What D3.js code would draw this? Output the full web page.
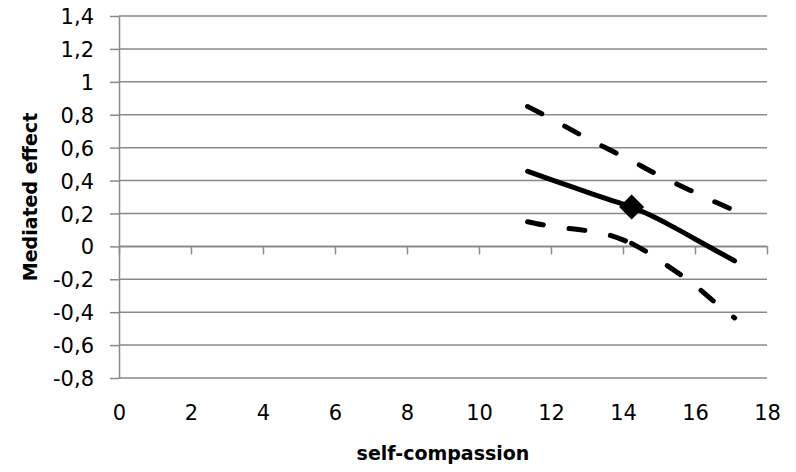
<!DOCTYPE html>
<html>
<head>
<meta charset="utf-8">
<script src="https://cdn.jsdelivr.net/npm/d3@7"></script>
<style>
  html, body { margin: 0; padding: 0; background: #fff; }
  svg { display: block; }
</style>
</head>
<body>
<svg id="chart" width="796" height="472"></svg>
<script>
// ---- data ----
const xValues      = [11.35, 12.0, 13.0, 13.6, 14.24, 14.75, 15.25, 16.0, 16.6, 17.1];
const effect       = [0.456, 0.405, 0.33, 0.285, 0.239, 0.19, 0.135, 0.045, -0.028, -0.088];
const upperCI      = [0.85, 0.776, 0.657, 0.59, 0.52, 0.46, 0.405, 0.327, 0.266, 0.217];
const lowerCI      = [0.15, 0.122, 0.095, 0.07, 0.018, -0.046, -0.12, -0.237, -0.348, -0.435];
const markerPoint  = [14.24, 0.239];
const xTicks       = [0, 2, 4, 6, 8, 10, 12, 14, 16, 18];
const yTicks       = [-0.8, -0.6, -0.4, -0.2, 0, 0.2, 0.4, 0.6, 0.8, 1, 1.2, 1.4];
const xTitle       = "self-compassion";
const yTitle       = "Mediated effect";

(function () {
// ---- layout ----
const svg = d3.select("#chart");
const pL = 119, pR = 767, pT = 16, pB = 378;
const x = d3.scaleLinear().domain([0, 18]).range([pL, pR]);
const y = d3.scaleLinear().domain([-0.8, 1.4]).range([pB, pT]);
const grid = "#898989";
const locale = d3.formatLocale({decimal: ",", thousands: ".", grouping: [3], currency: ["", ""], minus: "-"});
const fmt = locale.format(".1~f");

// gridlines
svg.append("g").selectAll("line").data(yTicks).join("line")
  .attr("x1", pL).attr("x2", pR)
  .attr("y1", d => y(d)).attr("y2", d => y(d))
  .attr("stroke", grid).attr("stroke-width", 1.5);

// y axis
const yAxis = svg.append("g").attr("transform", `translate(${pL},0)`)
  .call(d3.axisLeft(y).tickValues(yTicks).tickSize(9).tickSizeOuter(0).tickFormat(fmt));
yAxis.select(".domain").attr("stroke", grid).attr("stroke-width", 1.5);
yAxis.selectAll(".tick line").attr("stroke", grid).attr("stroke-width", 1.5);
yAxis.selectAll(".tick text")
  .attr("x", -25).attr("dy", "0.36em")
  .attr("font-family", "DejaVu Sans").attr("font-size", 21).attr("fill", "#000");

// x axis on zero line
const xAxis = svg.append("g").attr("transform", `translate(0,${y(0)})`)
  .call(d3.axisBottom(x).tickValues(xTicks).tickSize(8).tickSizeOuter(0).tickFormat(fmt));
xAxis.select(".domain").attr("stroke", grid).attr("stroke-width", 1.5);
xAxis.selectAll(".tick line").attr("stroke", grid).attr("stroke-width", 1.5);
xAxis.selectAll(".tick text")
  .attr("y", 420 - y(0)).attr("dy", 0)
  .attr("font-family", "DejaVu Sans").attr("font-size", 21).attr("fill", "#000");

// titles
svg.append("text").text(xTitle)
  .attr("x", (pL + pR) / 2).attr("y", 460)
  .attr("text-anchor", "middle")
  .attr("font-family", "DejaVu Sans").attr("font-weight", "bold").attr("font-size", 19);
svg.append("text").text(yTitle)
  .attr("transform", `translate(37,${(pT + pB) / 2}) rotate(-90)`)
  .attr("text-anchor", "middle")
  .attr("font-family", "DejaVu Sans").attr("font-weight", "bold").attr("font-size", 19);

// lines
const pts = arr => xValues.map((xv, i) => [xv, arr[i]]);
const line = d3.line().x(d => x(d[0])).y(d => y(d[1])).curve(d3.curveMonotoneX);
const split = xValues.indexOf(markerPoint[0]);

svg.append("path").datum(pts(upperCI))
  .attr("d", line).attr("fill", "none").attr("stroke", "#000")
  .attr("stroke-width", 5).attr("stroke-linecap", "round").attr("stroke-dasharray", "16,26");

const low = pts(lowerCI);
[low.slice(0, split + 1), low.slice(split)].forEach(seg => {
  svg.append("path").datum(seg)
    .attr("d", line).attr("fill", "none").attr("stroke", "#000")
    .attr("stroke-width", 5).attr("stroke-linecap", "round").attr("stroke-dasharray", "16,26");
});

svg.append("path").datum(pts(effect))
  .attr("d", line).attr("fill", "none").attr("stroke", "#000")
  .attr("stroke-width", 5).attr("stroke-linecap", "round").attr("stroke-linejoin", "round");

// marker
const mx = x(markerPoint[0]), my = y(markerPoint[1]), r = 12.5;
svg.append("path")
  .attr("d", `M${mx},${my - r}L${mx + r},${my}L${mx},${my + r}L${mx - r},${my}Z`)
  .attr("fill", "#000");
})();
</script>
</body>
</html>
